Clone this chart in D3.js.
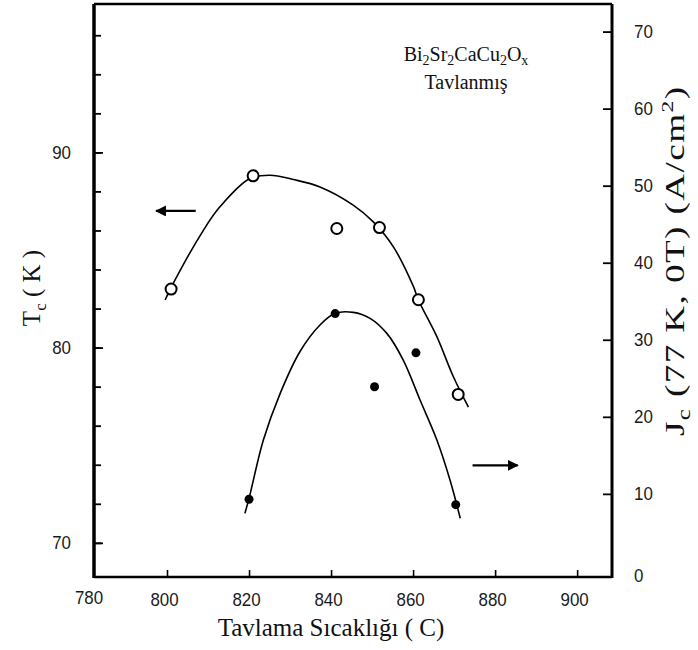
<!DOCTYPE html>
<html>
<head>
<meta charset="utf-8">
<script src="https://cdn.jsdelivr.net/npm/d3@7"></script>
<style>
  body { margin: 0; background: #fff; }
  svg { display: block; }
  .tick text, .num { font-family: "Liberation Sans", "DejaVu Sans", sans-serif; font-size: 19px; fill: #1a1a1a; }
  .serif { font-family: "Liberation Serif", "DejaVu Serif", serif; fill: #111; }
</style>
</head>
<body>
<svg id="chart" width="698" height="650"></svg>
<script>
// ---------- data ----------
const xTickValues = [800, 820, 840, 860, 880, 900];
const xOriginLabel = 780;
const tcTickValues = [70, 80, 90];
const tcMinorTicks = [70, 72, 74, 76, 78, 80, 82, 84, 86, 88, 90, 92, 94, 96];
const jcTickValues = [0, 10, 20, 30, 40, 50, 60, 70];

// Tc (open circles, left axis)
const tcTemps  = [801, 821, 841.4, 851.8, 861.3, 871];
const tcValues = [83.0, 88.8, 86.1, 86.15, 82.45, 77.6];
// Jc (filled dots, right axis)
const jcTemps  = [820, 841, 850.6, 860.7, 870.4];
const jcValues = [9.3, 33.4, 23.9, 28.3, 8.6];

// hand-drawn fit curves
const tcCurveTemps  = [799.5, 801.1, 808.9, 812.9, 820.2, 825.1, 830.8, 837.3, 845.4, 850.3, 855.2, 860.1, 861.3, 865.8, 869.8, 873.5];
const tcCurveValues = [82.44, 83.12, 86.02, 87.21, 88.66, 88.83, 88.61, 88.23, 87.30, 86.44, 85.16, 83.12, 82.44, 80.56, 78.52, 76.95];
const jcCurveTemps  = [819.0, 820.1, 823.5, 827.6, 832.4, 837.3, 841.0, 845.4, 849.5, 853.6, 857.6, 861.7, 865.8, 869.0, 871.5];
const jcCurveValues = [7.47, 9.63, 16.99, 23.05, 28.45, 31.91, 33.43, 33.56, 32.78, 30.83, 27.37, 22.18, 16.99, 11.80, 6.83];

// arrows: [tail temp, tip temp, value]
const tcArrow = [807, 797, 87.0];
const jcArrow = [874.5, 885.5, 13.7];

// ---------- layout ----------
const svg = d3.select("#chart");
const L = 94, R = 612, T = 4, B = 577;

const x = d3.scaleLinear().domain([780, 800, 908.5]).range([L, 167, R]);
const yL = d3.scaleLinear().domain([68.25, 97.6]).range([B, T]);
const yR = d3.scaleLinear().domain([-0.79, 73.58]).range([B, T]);

const narrow = sel => sel.attr("textLength", d => String(d).length * 9.4).attr("lengthAdjust", "spacingAndGlyphs");

// frame
const frame = svg.append("g").attr("stroke", "#000").attr("fill", "none");
frame.append("line").attr("x1", L).attr("x2", L).attr("y1", T).attr("y2", B + 1).attr("stroke-width", 3.5);
frame.append("line").attr("x1", R).attr("x2", R).attr("y1", T).attr("y2", B + 1).attr("stroke-width", 3);
frame.append("line").attr("x1", L).attr("x2", R).attr("y1", T).attr("y2", T).attr("stroke-width", 2.5);
frame.append("line").attr("x1", L).attr("x2", R).attr("y1", B).attr("y2", B).attr("stroke-width", 2.5);

// bottom axis (ticks pointing inward)
const xAxis = d3.axisBottom(x).tickValues(xTickValues).tickSize(-7).tickPadding(16).tickFormat(d3.format("d"));
const gx = svg.append("g").attr("transform", `translate(0,${B})`).call(xAxis);
gx.select(".domain").remove();
gx.selectAll(".tick line").attr("stroke", "#000").attr("stroke-width", 1.6);
gx.selectAll(".tick text").attr("dx", -3).call(narrow);
svg.append("text").datum(xOriginLabel).attr("class", "num")
  .attr("x", x(xOriginLabel) - 5).attr("y", B + 27)
  .attr("text-anchor", "middle")
  .text(d => d).call(narrow);

// left axis minor ticks
const gLm = svg.append("g").attr("transform", `translate(${L},0)`)
  .call(d3.axisLeft(yL).tickValues(tcMinorTicks).tickSize(-7).tickFormat(""));
gLm.select(".domain").remove();
gLm.selectAll(".tick line").attr("stroke", "#000").attr("stroke-width", 1.8);
// left axis labels
const gL = svg.append("g").attr("transform", `translate(${L},0)`)
  .call(d3.axisLeft(yL).tickValues(tcTickValues).tickSize(-9).tickPadding(23));
gL.select(".domain").remove();
gL.selectAll(".tick line").attr("stroke", "#000").attr("stroke-width", 1.8);
gL.selectAll(".tick text").call(narrow);

// right axis
const gR = svg.append("g").attr("transform", `translate(${R},0)`)
  .call(d3.axisRight(yR).tickValues(jcTickValues).tickSize(-9).tickPadding(22));
gR.select(".domain").remove();
gR.selectAll(".tick line").attr("stroke", "#000").attr("stroke-width", 1.8)
  .filter(d => d === 0).remove();
gR.selectAll(".tick text").call(narrow);
gR.selectAll(".tick").filter(d => d === 0).select("text").attr("dy", "0.55em");

// curves
const line = d3.line().curve(d3.curveCatmullRom.alpha(0.5));
svg.append("path")
  .attr("d", line(tcCurveTemps.map((t, i) => [x(t), yL(tcCurveValues[i])])))
  .attr("fill", "none").attr("stroke", "#000").attr("stroke-width", 1.6);
svg.append("path")
  .attr("d", line(jcCurveTemps.map((t, i) => [x(t), yR(jcCurveValues[i])])))
  .attr("fill", "none").attr("stroke", "#000").attr("stroke-width", 1.6);

// markers
svg.append("g").selectAll("circle").data(tcTemps).join("circle")
  .attr("cx", (d) => x(d)).attr("cy", (d, i) => yL(tcValues[i])).attr("r", 5.5)
  .attr("fill", "#fff").attr("stroke", "#000").attr("stroke-width", 2);
svg.append("g").selectAll("circle").data(jcTemps).join("circle")
  .attr("cx", (d) => x(d)).attr("cy", (d, i) => yR(jcValues[i])).attr("r", 4.5)
  .attr("fill", "#000");

// arrows
svg.append("defs").append("marker").attr("id", "ah")
  .attr("viewBox", "0 0 10 10").attr("refX", 9).attr("refY", 5)
  .attr("markerWidth", 5).attr("markerHeight", 5).attr("orient", "auto-start-reverse")
  .attr("markerUnits", "strokeWidth")
  .append("path").attr("d", "M0,0L10,5L0,10z").attr("fill", "#000");
svg.append("line")
  .attr("x1", x(tcArrow[0])).attr("x2", x(tcArrow[1]))
  .attr("y1", yL(tcArrow[2])).attr("y2", yL(tcArrow[2]))
  .attr("stroke", "#000").attr("stroke-width", 2.2).attr("marker-end", "url(#ah)");
svg.append("line")
  .attr("x1", x(jcArrow[0])).attr("x2", x(jcArrow[1]))
  .attr("y1", yR(jcArrow[2])).attr("y2", yR(jcArrow[2]))
  .attr("stroke", "#000").attr("stroke-width", 2.2).attr("marker-end", "url(#ah)");

// legend text
const lg = svg.append("text").attr("class", "serif")
  .attr("x", 466).attr("y", 61).attr("text-anchor", "middle").style("font-size", "20px");
[["Bi", null], ["2", "sub"], ["Sr", null], ["2", "sub"], ["CaCu", null], ["2", "sub"], ["O", null], ["x", "sub"]]
  .forEach(([t, s], i) => {
    const ts = lg.append("tspan").text(t);
    if (s === "sub") ts.attr("dy", 4).style("font-size", "14px");
    else if (i > 0) ts.attr("dy", -4);
  });
svg.append("text").attr("class", "serif")
  .attr("x", 466).attr("y", 89).attr("text-anchor", "middle").style("font-size", "20px")
  .text("Tavlanmış");

// axis titles
svg.append("text").attr("class", "serif")
  .attr("x", (L + R) / 2 - 22).attr("y", 636).attr("text-anchor", "middle").style("font-size", "25px")
  .text("Tavlama Sıcaklığı ( C)");

const lt = svg.append("text").attr("class", "serif")
  .attr("transform", `translate(40,${(yL(80) + yL(90)) / 2 + 38}) rotate(-90)`)
  .attr("text-anchor", "middle").style("font-size", "25px");
lt.append("tspan").text("T");
lt.append("tspan").text("c").attr("dy", 6).style("font-size", "17px");
lt.append("tspan").text(" ( K )").attr("dy", -6);

// right title: long and slightly stretched along its baseline as in the reference
const rtTop = yR(63), rtBottom = yR(17.5);
const rt = svg.append("text").attr("class", "serif")
  .attr("text-anchor", "middle").style("font-size", "27px").style("letter-spacing", "1px");
rt.append("tspan").text("J");
rt.append("tspan").text("c").attr("dy", 6).style("font-size", "18px");
rt.append("tspan").text(" (77 K, 0T) (A/cm").attr("dy", -6);
rt.append("tspan").text("2").attr("dy", -11).style("font-size", "17px");
rt.append("tspan").text(")").attr("dy", 11);
const rtLen = rt.node().getComputedTextLength();
const rtScale = (rtBottom - rtTop) / rtLen;
rt.attr("transform", `translate(684,${(rtTop + rtBottom) / 2}) rotate(-90) scale(${rtScale},1)`);
</script>
</body>
</html>
